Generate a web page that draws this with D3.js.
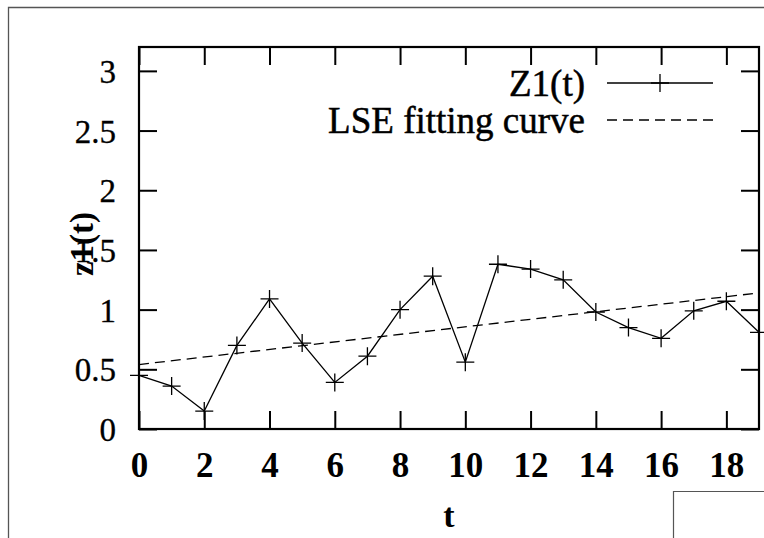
<!DOCTYPE html>
<html>
<head>
<meta charset="utf-8">
<script src="https://cdn.jsdelivr.net/npm/d3@7"></script>
<style>
  html, body { margin: 0; padding: 0; background: #fff; }
  svg { display: block; }
</style>
</head>
<body>
<svg id="chart" width="764" height="538"></svg>
<script>
// Z1(t) samples at integer time steps
const tValues = [0, 1, 2, 3, 4, 5, 6, 7, 8, 9, 10, 11, 12, 13, 14, 15, 16, 17, 18, 19];
const z1Values = [0.45, 0.36, 0.15, 0.70, 1.09, 0.72, 0.39, 0.61, 1.00, 1.28,
                  0.56, 1.38, 1.34, 1.25, 0.98, 0.85, 0.76, 0.99, 1.07, 0.81];

// Least-squares fitting line, given by its end points
const fitT = [0, 19];
const fitValues = [0.54, 1.14];

const xTickValues = [0, 2, 4, 6, 8, 10, 12, 14, 16, 18];
const yTickValues = [0, 0.5, 1, 1.5, 2, 2.5, 3];
const yTickLabels = ["0", "0.5", "1", "1.5", "2", "2.5", "3"];

const legendLabels = ["Z1(t)", "LSE fitting curve"];

const svg = d3.select("#chart");
const font = "'Liberation Serif', 'Times New Roman', serif";

const plot = { left: 139, top: 47, right: 759, bottom: 429 };

const x = d3.scaleLinear().domain([0, 19]).range([plot.left, plot.right]);
const y = d3.scaleLinear().domain([0, 3.2]).range([plot.bottom, plot.top]);

// Outer page frame
svg.append("path")
  .attr("d", `M8.5,538 L8.5,7.5 L764,7.5`)
  .attr("fill", "none").attr("stroke", "#555").attr("stroke-width", 1.3);

// Small box in the lower right corner
svg.append("path")
  .attr("d", `M673.5,538 L673.5,491.5 L764,491.5`)
  .attr("fill", "none").attr("stroke", "#555").attr("stroke-width", 1.2);

const tickLen = 18;

// Axes with inward ticks on all four sides
const bottomAxis = d3.axisBottom(x).tickValues(xTickValues).tickSizeInner(-tickLen).tickSizeOuter(0).tickPadding(0);
const topAxis = d3.axisTop(x).tickValues(xTickValues).tickSizeInner(-tickLen).tickSizeOuter(0).tickFormat("");
const leftAxis = d3.axisLeft(y).tickValues(yTickValues).tickSizeInner(-tickLen).tickSizeOuter(0)
  .tickPadding(23).tickFormat((d, i) => yTickLabels[i]);
const rightAxis = d3.axisRight(y).tickValues(yTickValues).tickSizeInner(-tickLen).tickSizeOuter(0).tickFormat("");

function styleAxis(g) {
  g.select(".domain").remove();
  g.selectAll(".tick line").attr("stroke", "#000").attr("stroke-width", 2);
}

const gBottom = svg.append("g").attr("transform", `translate(0,${plot.bottom})`).call(bottomAxis).call(styleAxis);
gBottom.selectAll(".tick text")
  .attr("y", 0).attr("dy", null)
  .attr("transform", "translate(0,48)")
  .attr("font-family", font).attr("font-size", 35).attr("font-weight", "bold").attr("fill", "#000");

svg.append("g").attr("transform", `translate(0,${plot.top})`).call(topAxis).call(styleAxis);

const gLeft = svg.append("g").attr("transform", `translate(${plot.left},0)`).call(leftAxis).call(styleAxis);
gLeft.selectAll(".tick text")
  .attr("dy", "0.35em")
  .attr("font-family", font).attr("font-size", 33).attr("fill", "#000")
  .attr("stroke", "#000").attr("stroke-width", 0.3);

svg.append("g").attr("transform", `translate(${plot.right},0)`).call(rightAxis).call(styleAxis);

// Plot frame
svg.append("rect")
  .attr("x", plot.left).attr("y", plot.top)
  .attr("width", plot.right - plot.left).attr("height", plot.bottom - plot.top)
  .attr("fill", "none").attr("stroke", "#000").attr("stroke-width", 2.2);

// Fitting line (dashed)
const fitData = fitT.map((t, i) => ({ t, v: fitValues[i] }));
svg.append("path")
  .datum(fitData)
  .attr("d", d3.line().x(d => x(d.t)).y(d => y(d.v)))
  .attr("fill", "none").attr("stroke", "#000").attr("stroke-width", 1.3)
  .attr("stroke-dasharray", "10,6");

// Z1(t) series line
const z1Data = tValues.map((t, i) => ({ t, v: z1Values[i] }));
svg.append("path")
  .datum(z1Data)
  .attr("d", d3.line().x(d => x(d.t)).y(d => y(d.v)))
  .attr("fill", "none").attr("stroke", "#000").attr("stroke-width", 1.3);

// Cross markers
const crossSize = 9;
const crossPath = (cx, cy) => `M${cx - crossSize},${cy} L${cx + crossSize},${cy} M${cx},${cy - crossSize} L${cx},${cy + crossSize}`;
svg.append("g").selectAll("path")
  .data(z1Data)
  .join("path")
  .attr("d", d => crossPath(x(d.t), y(d.v)))
  .attr("fill", "none").attr("stroke", "#000").attr("stroke-width", 1.3);

// Legend
const legendTextX = 585;
const legendRows = [83, 120];
const legendLineX = [607, 713];

svg.append("g").selectAll("text")
  .data(legendLabels)
  .join("text")
  .attr("x", legendTextX).attr("y", (d, i) => legendRows[i])
  .attr("dy", "0.35em")
  .attr("text-anchor", "end")
  .attr("font-family", font).attr("font-size", 37)
  .attr("stroke", "#000").attr("stroke-width", 0.5)
  .text(d => d);

svg.append("line")
  .attr("x1", legendLineX[0]).attr("x2", legendLineX[1])
  .attr("y1", legendRows[0]).attr("y2", legendRows[0])
  .attr("stroke", "#000").attr("stroke-width", 1.3);
svg.append("path")
  .attr("d", crossPath((legendLineX[0] + legendLineX[1]) / 2, legendRows[0]))
  .attr("stroke", "#000").attr("stroke-width", 1.3);
svg.append("line")
  .attr("x1", legendLineX[0]).attr("x2", legendLineX[1])
  .attr("y1", legendRows[1]).attr("y2", legendRows[1])
  .attr("stroke", "#000").attr("stroke-width", 1.3)
  .attr("stroke-dasharray", "10,6");

// Axis titles
svg.append("text")
  .attr("x", 449).attr("y", 527)
  .attr("text-anchor", "middle")
  .attr("font-family", font).attr("font-size", 34).attr("font-weight", "bold")
  .text("t");

svg.append("text")
  .attr("transform", "translate(93,244) rotate(-90)")
  .attr("text-anchor", "middle")
  .attr("font-family", font).attr("font-size", 33).attr("font-weight", "bold")
  .text("z1(t)");
</script>
</body>
</html>
